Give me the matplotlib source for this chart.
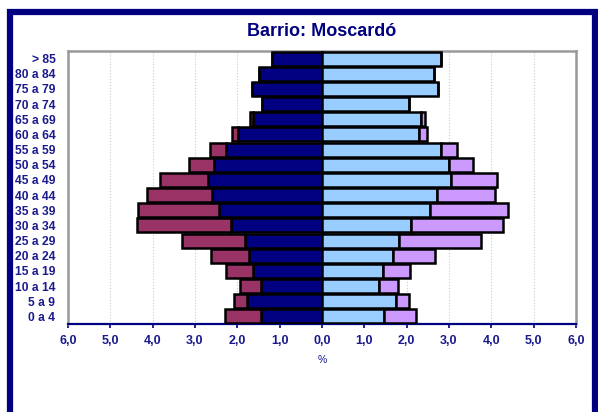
import numpy as np
import matplotlib
matplotlib.use("Agg")
import matplotlib.pyplot as plt
from matplotlib.patches import Rectangle
from matplotlib.ticker import FuncFormatter

plt.rcParams['font.family'] = ['Liberation Sans', 'DejaVu Sans']

# age groups, bottom to top
ages = ["0 a 4", "5 a 9", "10 a 14", "15 a 19", "20 a 24", "25 a 29", "30 a 34",
        "35 a 39", "40 a 44", "45 a 49", "50 a 54", "55 a 59", "60 a 64",
        "65 a 69", "70 a 74", "75 a 79", "80 a 84", "> 85"]

# % of population
men_nat = [1.43, 1.77, 1.43, 1.62, 1.72, 1.81, 2.15, 2.44, 2.59, 2.70, 2.55, 2.26,
           1.99, 1.62, 1.42, 1.65, 1.48, 1.18]
men_ext = [0.86, 0.31, 0.51, 0.65, 0.90, 1.49, 2.22, 1.90, 1.54, 1.13, 0.60, 0.39,
           0.14, 0.08, 0.0, 0.0, 0.0, 0.0]
women_nat = [1.46, 1.75, 1.34, 1.43, 1.67, 1.81, 2.10, 2.55, 2.71, 3.05, 3.01, 2.81,
             2.30, 2.34, 2.05, 2.73, 2.65, 2.81]
women_ext = [0.76, 0.30, 0.45, 0.65, 1.01, 1.95, 2.17, 1.84, 1.38, 1.08, 0.56, 0.37,
             0.17, 0.10, 0.0, 0.0, 0.0, 0.0]

navy = "#000080"
maroon = "#993366"
lightblue = "#99CCFF"
lavender = "#CC99FF"
txt = "#1a1a8c"

fig = plt.figure(figsize=(5.98, 4.12), dpi=100)
ax = fig.add_axes([68 / 598, 1 - 324 / 412, (576 - 68) / 598, (324 - 51) / 412])

y = np.arange(len(ages))
mn = np.array(men_nat)
wn = np.array(women_nat)
h = 0.93
kw = dict(height=h, edgecolor="black", linewidth=1.8, zorder=3)
ax.barh(y, -mn, color=navy, **kw)
ax.barh(y, -np.array(men_ext), left=-mn, color=maroon, **kw)
ax.barh(y, wn, color=lightblue, **kw)
ax.barh(y, np.array(women_ext), left=wn, color=lavender, **kw)

ax.set_xlim(-6, 6)
ax.set_ylim(-0.5, len(ages) - 0.5)
ax.set_xticks(np.arange(-6, 7, 1))
ax.xaxis.set_major_formatter(FuncFormatter(lambda v, p: f"{abs(v):.1f}".replace(".", ",")))
ax.set_yticks(y)
ax.set_yticklabels(ages)
ax.tick_params(axis="y", length=0, pad=9, labelsize=8.7, labelcolor=txt)
ax.tick_params(axis="x", direction="out", length=3, width=1.2, color=navy,
               labelsize=9, labelcolor=txt, pad=5)
for lab in ax.get_xticklabels() + ax.get_yticklabels():
    lab.set_fontweight("bold")

ax.grid(axis="x", color="#cccccc", linestyle=":", linewidth=0.8, zorder=0)
for s in ["left", "top", "right"]:
    ax.spines[s].set_color("#999999")
    ax.spines[s].set_linewidth(1.8)
ax.spines["bottom"].set_color(navy)
ax.spines["bottom"].set_linewidth(1.6)

ax.set_xlabel("%", fontsize=7.5, color=txt, labelpad=6)
fig.text(322 / 598, 1 - 32 / 412, "Barrio: Moscardó", ha="center", va="center",
         fontsize=13, fontweight="bold", color=navy)

# outer navy frame (bottom edge falls outside the image)
fig.patches.append(Rectangle((10 / 598, -0.1), (595 - 10) / 598, 1.1 - 12.5 / 412,
                             transform=fig.transFigure, fill=False,
                             edgecolor=navy, linewidth=4.5))

fig.savefig("out.png", dpi=100)
